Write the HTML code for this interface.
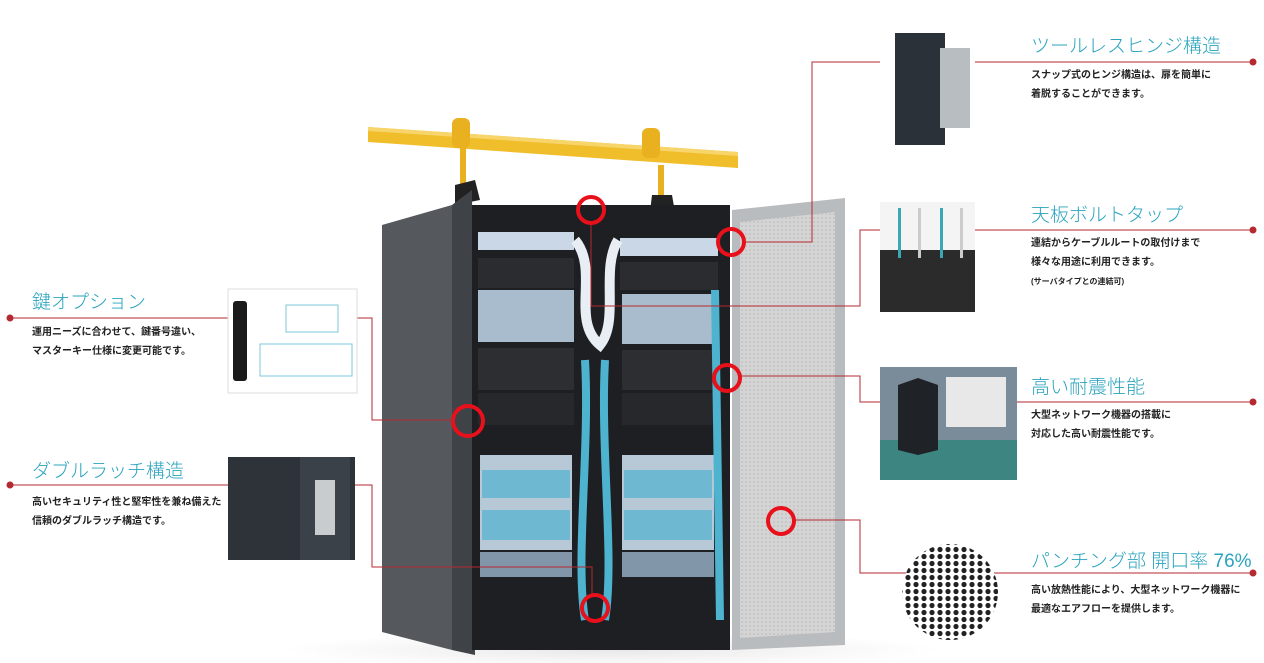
<!DOCTYPE html>
<html><head><meta charset="utf-8"><style>
html,body{margin:0;padding:0;background:#fff;}
body{width:1264px;height:663px;position:relative;overflow:hidden;font-family:"Liberation Sans","Noto Sans CJK JP",sans-serif;}
.t{position:absolute;color:#2aa3bd;font-size:19px;font-weight:300;white-space:nowrap;letter-spacing:0}
.d{position:absolute;color:#222;font-size:10px;line-height:19px;white-space:nowrap;font-weight:bold}
.s{font-size:8px}
</style></head><body>
<svg width="1264" height="663" style="position:absolute;left:0;top:0">
<defs>
<pattern id="hex" width="8" height="7" patternUnits="userSpaceOnUse"><rect width="8" height="7" fill="#fff"/><circle cx="4" cy="3.5" r="2.6" fill="#222"/></pattern>
<pattern id="perf" width="4" height="4" patternUnits="userSpaceOnUse"><rect width="4" height="4" fill="#d4d4d4"/><circle cx="2" cy="2" r="0.8" fill="#b8b8b8"/></pattern>
<radialGradient id="fl" cx="0.5" cy="0.5" r="0.5"><stop offset="0" stop-color="#e8e8e8"/><stop offset="1" stop-color="#fff"/></radialGradient>
</defs>
<ellipse cx="610" cy="650" rx="330" ry="18" fill="url(#fl)"/>
<polygon points="368,127 738,152 738,168 368,142" fill="#f0bd2b"/>
<polygon points="368,127 738,152 738,156 368,131" fill="#f7d56a"/>
<rect x="452" y="118" width="18" height="30" rx="6" fill="#e9b020"/>
<rect x="642" y="128" width="18" height="30" rx="6" fill="#e9b020"/>
<rect x="460" y="148" width="6" height="40" fill="#e9b020"/>
<rect x="658" y="165" width="6" height="35" fill="#e9b020"/>
<polygon points="455,185 475,180 480,200 455,205" fill="#222"/>
<polygon points="652,195 672,195 675,212 650,212" fill="#222"/>
<polygon points="382,225 452,205 452,650 382,632" fill="#55585c"/>
<polygon points="452,205 472,190 475,655 452,650" fill="#3f4246"/>
<rect x="472" y="205" width="258" height="445" fill="#1d1f22"/>
<rect x="478" y="232" width="96" height="18" fill="#c9d7e6"/>
<rect x="620" y="238" width="98" height="18" fill="#c9d7e6"/>
<rect x="478" y="258" width="96" height="30" fill="#2a2c2f"/>
<rect x="620" y="262" width="98" height="28" fill="#2a2c2f"/>
<rect x="478" y="290" width="96" height="52" fill="#a9bccd"/>
<rect x="622" y="294" width="96" height="50" fill="#a9bccd"/>
<rect x="478" y="348" width="96" height="42" fill="#2c2e31"/>
<rect x="622" y="350" width="96" height="40" fill="#2c2e31"/>
<rect x="478" y="393" width="96" height="32" fill="#26282b"/>
<rect x="622" y="393" width="96" height="32" fill="#26282b"/>
<rect x="480" y="455" width="92" height="95" fill="#b7c8d6"/>
<rect x="622" y="455" width="92" height="95" fill="#b7c8d6"/>
<rect x="482" y="470" width="88" height="28" fill="#6fb8d1"/>
<rect x="624" y="470" width="88" height="28" fill="#6fb8d1"/>
<rect x="482" y="510" width="88" height="30" fill="#6fb8d1"/>
<rect x="624" y="510" width="88" height="30" fill="#6fb8d1"/>
<rect x="480" y="552" width="92" height="25" fill="#8196a8"/>
<rect x="622" y="552" width="92" height="25" fill="#8196a8"/>
<path d="M575,240 C600,270 570,320 600,345 C620,320 600,270 618,240" stroke="#e8eef4" stroke-width="10" fill="none"/>
<path d="M585,360 C590,450 575,560 585,620 M605,360 C600,450 615,560 605,620 M715,290 L720,620" stroke="#4eb3cf" stroke-width="8" fill="none"/>
<polygon points="732,210 845,198 845,645 732,650" fill="#b9bcbf"/>
<polygon points="740,222 835,212 835,632 740,638" fill="url(#perf)"/>
<g fill="none" stroke="#e8101a" stroke-width="4">
<circle cx="591" cy="210" r="13"/><circle cx="731" cy="242" r="13"/><circle cx="468" cy="421" r="15"/>
<circle cx="727" cy="378" r="13"/><circle cx="781" cy="521" r="13"/><circle cx="595" cy="608" r="13"/>
</g>
<g fill="none" stroke="#b52a30" stroke-width="1">
<path d="M10,318 H228 M357,318 H372 V420 H454"/>
<path d="M10,485 H228 M355,485 H372 V567 H592 V594"/>
<path d="M745,242 H812 V62 H880 M975,62 H1253"/>
<path d="M591,224 V306 H860 V230 H880 M975,230 H1253"/>
<path d="M741,376 H860 V402 H880 M1017,402 H1253"/>
<path d="M795,520 H860 V573 H1253"/>
</g>
<g fill="#b52a30"><circle cx="10" cy="318" r="3.5"/><circle cx="10" cy="485" r="3.5"/><circle cx="1253" cy="62" r="3.5"/><circle cx="1253" cy="230" r="3.5"/><circle cx="1253" cy="402" r="3.5"/><circle cx="1253" cy="573" r="3.5"/></g>
<g>
<rect x="228" y="289" width="129" height="104" fill="#fff" stroke="#ddd"/>
<rect x="233" y="301" width="14" height="80" rx="3" fill="#1a1a1a"/>
<rect x="286" y="305" width="52" height="27" fill="none" stroke="#7cc7d8"/>
<rect x="260" y="344" width="92" height="32" fill="none" stroke="#7cc7d8"/>
<rect x="228" y="457" width="127" height="103" fill="#2d3339"/>
<rect x="300" y="457" width="50" height="103" fill="#3a4148"/>
<rect x="315" y="480" width="20" height="55" fill="#c9cccf"/>
<rect x="880" y="33" width="95" height="112" fill="#fff"/>
<rect x="895" y="33" width="50" height="112" fill="#2a3138"/>
<rect x="940" y="48" width="30" height="80" fill="#b8bdc2"/>
<rect x="880" y="202" width="95" height="110" fill="#f4f4f4"/>
<rect x="880" y="250" width="95" height="62" fill="#2b2b2b"/>
<rect x="898" y="208" width="3" height="50" fill="#3aa7b5"/><rect x="918" y="208" width="3" height="50" fill="#ccc"/><rect x="940" y="208" width="3" height="50" fill="#3aa7b5"/><rect x="960" y="208" width="3" height="50" fill="#ccc"/>
<rect x="880" y="367" width="137" height="113" fill="#7a8c9a"/>
<rect x="880" y="440" width="137" height="40" fill="#3c8580"/>
<rect x="946" y="377" width="60" height="50" fill="#e8e8e8"/>
<polygon points="898,385 918,378 938,385 938,450 918,455 898,450" fill="#1f2226"/>
<circle cx="950" cy="592" r="48" fill="url(#hex)"/>
</g>
</svg>
<div class="t" style="left:32px;top:287px">鍵オプション</div>
<div class="d" style="left:32px;top:323px">運用ニーズに合わせて、鍵番号違い、<br>マスターキー仕様に変更可能です。</div>
<div class="t" style="left:32px;top:456px">ダブルラッチ構造</div>
<div class="d" style="left:32px;top:493px">高いセキュリティ性と堅牢性を兼ね備えた<br>信頼のダブルラッチ構造です。</div>
<div class="t" style="left:1031px;top:31px">ツールレスヒンジ構造</div>
<div class="d" style="left:1031px;top:66px">スナップ式のヒンジ構造は、扉を簡単に<br>着脱することができます。</div>
<div class="t" style="left:1031px;top:200px">天板ボルトタップ</div>
<div class="d" style="left:1031px;top:234px">連結からケーブルルートの取付けまで<br>様々な用途に利用できます。<br><span class="s">(サーバタイプとの連結可)</span></div>
<div class="t" style="left:1031px;top:372px">高い耐震性能</div>
<div class="d" style="left:1031px;top:406px">大型ネットワーク機器の搭載に<br>対応した高い耐震性能です。</div>
<div class="t" style="left:1031px;top:546px">パンチング部 開口率 76%</div>
<div class="d" style="left:1031px;top:581px">高い放熱性能により、大型ネットワーク機器に<br>最適なエアフローを提供します。</div>
</body></html>
